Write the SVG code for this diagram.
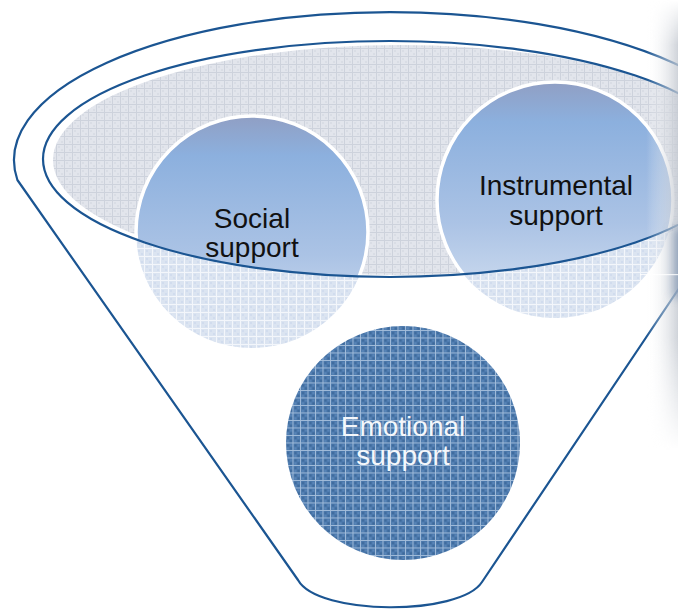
<svg xmlns="http://www.w3.org/2000/svg" width="678" height="609" viewBox="0 0 678 609">
  <style>
    .edge { fill: none; stroke: #1b5592; stroke-width: 2.2; stroke-linejoin: round; }
    .label { font-family: "Liberation Sans", Arial, sans-serif; font-size: 28px; text-anchor: middle; }
    .dark { fill: #111111; }
    .light { fill: #f4f7fb; }
    .ring { fill: none; stroke: #ffffff; stroke-width: 3.5; }
  </style>
  <defs>
    <!-- textured fills -->
    <pattern id="gridGray" width="8" height="8" patternUnits="userSpaceOnUse">
      <rect width="8" height="8" fill="#e2e5ec"/>
      <path d="M2 2h2v2h-2zM5 5h2v2h-2z" fill="#d9dde5"/>
      <path d="M0 0.5H8M0.5 0V8" stroke="#cdd2dc" stroke-width="1"/>
    </pattern>
    <pattern id="gridLight" width="8" height="8" patternUnits="userSpaceOnUse">
      <rect width="8" height="8" fill="#dbe4f1"/>
      <path d="M2 2h2v2h-2zM5 5h2v2h-2z" fill="#d1dcee"/>
      <path d="M0 0.5H8M0.5 0V8" stroke="#f3f6fb" stroke-width="1"/>
    </pattern>
    <pattern id="gridDark" width="7.5" height="7.5" patternUnits="userSpaceOnUse">
      <rect width="7.5" height="7.5" fill="#4a78ac"/>
      <path d="M2 2h2v2h-2zM5 5h2v2h-2z" fill="#3d6899"/>
      <path d="M5 2h2v2h-2zM2 5h2v2h-2z" fill="#5b87b9"/>
      <path d="M0 0.5H7.5M0.5 0V7.5" stroke="#a2bcda" stroke-width="1"/>
    </pattern>
    <linearGradient id="blueFill" x1="0" y1="0" x2="0" y2="1">
      <stop offset="0" stop-color="#909fc4"/>
      <stop offset="0.17" stop-color="#8cb0de"/>
      <stop offset="0.6" stop-color="#abc3e5"/>
      <stop offset="1" stop-color="#d8e3f2"/>
    </linearGradient>
    <linearGradient id="edgeShade" x1="0" y1="0" x2="1" y2="0">
      <stop offset="0" stop-color="#ffffff" stop-opacity="0"/>
      <stop offset="1" stop-color="#c3c8d0"/>
    </linearGradient>
    <linearGradient id="fadeV" x1="0" y1="0" x2="0" y2="1">
      <stop offset="0" stop-color="#ffffff" stop-opacity="0"/>
      <stop offset="0.1" stop-color="#ffffff" stop-opacity="1"/>
      <stop offset="0.75" stop-color="#ffffff" stop-opacity="1"/>
      <stop offset="1" stop-color="#ffffff" stop-opacity="0"/>
    </linearGradient>
    <mask id="shadeMask">
      <rect x="600" y="0" width="78" height="450" fill="url(#fadeV)"/>
    </mask>
    <clipPath id="bowl">
      <ellipse cx="390" cy="159" rx="347" ry="118"/>
    </clipPath>
    <filter id="soft" x="-1" y="-0.5" width="3" height="2">
      <feGaussianBlur stdDeviation="7 5"/>
    </filter>
  </defs>

  <rect width="678" height="609" fill="#ffffff"/>

  <!-- inner surface of the funnel -->
  <g id="funnel-surface">
    <ellipse cx="400" cy="160" rx="347" ry="115" fill="url(#gridGray)"/>
  </g>

  <!-- support circles -->
  <g id="social">
    <circle cx="252" cy="232" r="116" fill="url(#gridLight)"/>
    <circle cx="252" cy="232" r="116" fill="url(#blueFill)" clip-path="url(#bowl)"/>
    <circle cx="252" cy="232" r="116" class="ring" clip-path="url(#bowl)"/>
    <text class="label dark" x="252" y="228">Social</text>
    <text class="label dark" x="252" y="257">support</text>
  </g>

  <g id="instrumental">
    <circle cx="555" cy="200" r="118" fill="url(#gridLight)"/>
    <circle cx="555" cy="200" r="118" fill="url(#blueFill)" clip-path="url(#bowl)"/>
    <circle cx="555" cy="200" r="118" class="ring" clip-path="url(#bowl)"/>
    <text class="label dark" x="556" y="195">Instrumental</text>
    <text class="label dark" x="556" y="225">support</text>
  </g>

  <g id="emotional">
    <circle cx="403" cy="443" r="117" fill="url(#gridDark)"/>
    <text class="label light" x="403" y="436">Emotional</text>
    <text class="label light" x="403" y="465">support</text>
  </g>

  <!-- funnel outlines -->
  <g id="connectors">
    <ellipse class="edge" cx="390" cy="159" rx="347" ry="118"/>
    <path class="edge" d="M690 272 L482 582 C460 616 318 616 298 580 L17.4 180 A376 148 0 1 1 762.6 180"/>
  </g>

  <!-- soft shading along the right border -->
  <g id="right-shade" mask="url(#shadeMask)">
    <rect x="646" y="0" width="32" height="450" fill="url(#edgeShade)" opacity="0.8"/>
    <rect x="676" y="228" width="20" height="70" fill="#6d86a8" filter="url(#soft)" opacity="0.85"/>
    <rect x="640" y="274" width="38" height="1.2" fill="#ffffff" opacity="0.8"/>
  </g>
</svg>
